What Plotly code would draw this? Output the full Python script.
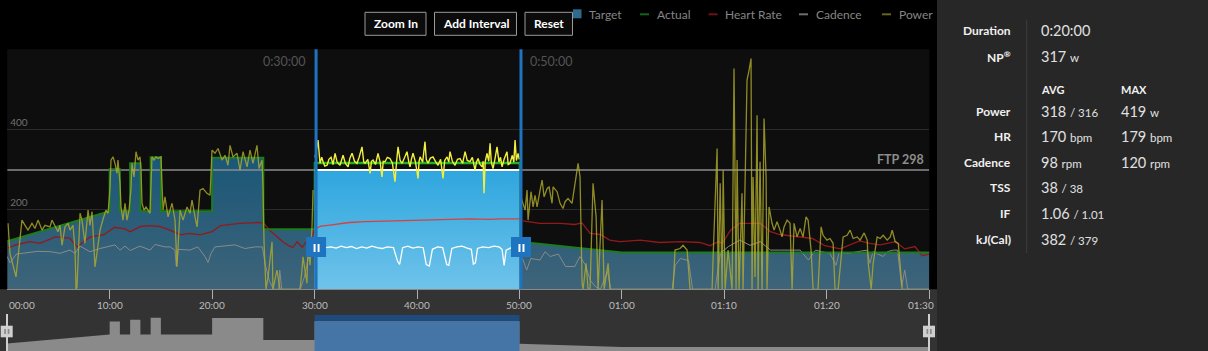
import plotly.graph_objects as go
import numpy as np

# ---------------- data ----------------
sel_start, sel_end = 30, 50          # selected interval (minutes)
ftp = 298

# target / actual step profile (minutes, watts)
target_t = [0, 10, 10, 11, 11, 12, 12, 13, 13, 14, 14, 15, 15, 20, 20, 25, 25, 30, 30, 50, 50, 60, 90]
target_w = [120, 195, 300, 300, 195, 195, 315, 315, 195, 195, 330, 330, 195, 195, 329, 329, 150, 150, 298, 298, 119, 92, 92]
actual_w = [120, 195, 300, 300, 195, 195, 315, 315, 195, 195, 330, 330, 195, 195, 329, 329, 150, 150, 316, 316, 119, 92, 92]

hr_t = [0, 1.0, 2.2, 3.2, 4.7, 6.1, 6.8, 8.1, 9.4, 10.5, 11.5, 12.0, 13.0, 13.9, 14.9, 15.9, 16.9, 17.8, 18.8, 20.0,
        20.8, 22.7, 24.7, 25.1, 25.6, 26.3, 26.9, 27.6, 27.9, 28.3, 28.8, 29.3, 29.75, 29.95,
        30.2, 30.6, 31.3, 32.3, 33.4, 34.9, 36.4, 38.3, 40.2, 41.2, 43.2, 45.2, 47.1, 48.1, 50.0,
        50.3, 51.2, 52.0, 54.0, 55.4, 56.1, 56.9, 57.9, 58.8, 59.8, 61.8, 63.7, 65.7, 67.6, 68.6, 69.4, 69.8,
        70.6, 71.5, 73.5, 74.5, 75.4, 77.4, 78.6, 79.8, 81.3, 83.2, 84.2, 85.2, 86.7, 87.6, 88.6, 89.3, 90]
hr_bpm = [103, 112, 119, 115, 131, 128, 106, 131, 136, 155, 151, 144, 157, 159, 157, 148, 136, 140, 136, 144,
          159, 165, 167, 163, 148, 131, 119, 107, 105, 119, 105, 123, 131, 148,
          153, 158, 160, 164, 167, 169, 170, 171, 172, 172, 173, 176, 175, 176, 176,
          171, 167, 165, 165, 162, 166, 140, 137, 123, 119, 123, 117, 119, 117, 109, 119, 115,
          148, 165, 165, 144, 137, 131, 127, 109, 101, 121, 115, 111, 119, 101, 107, 84, 88]

cad_t = [0, 0.27, 0.9, 1.5, 2.2, 3.0, 4.2, 5.15, 6.13, 6.62, 7.1, 8.08, 9.06, 10.03, 10.52, 11.0, 11.5, 12.0, 12.96, 13.94,
         14.43, 15.4, 15.9, 16.38, 16.5, 16.7, 17.84, 18.6, 19.3, 19.6, 19.9, 20.28, 21.26, 22.24, 23.2, 24.2, 24.9, 25.2,
         25.6, 26.0, 26.5, 26.6, 26.8, 28.6, 29.0, 29.4, 29.9,
         30.2, 31.1, 31.6, 32.1, 32.6, 33.1, 33.6, 34.1, 34.6, 35.1, 35.6, 36.1, 36.6, 37.1, 37.7, 38.1, 38.3, 38.6, 39.1,
         39.6, 40.1, 40.6, 40.9, 41.2, 41.5, 42.0, 42.5, 42.9, 43.1, 43.4, 43.9, 44.4, 44.9, 45.3, 45.5, 45.7, 45.9, 46.4,
         47.0, 47.5, 48.0, 48.3, 48.5, 48.7, 49.2, 49.8,
         50.3, 50.7, 51.1, 52.0, 52.5, 53.0, 53.8, 54.5, 55.4, 55.9, 56.4, 56.9, 57.4, 57.9, 58.6, 58.9, 64.9, 65.2, 65.7,
         66.5, 66.9, 69.1, 69.6, 70.4, 71.5, 72.5, 73.5, 74.5, 75.4, 77.4, 78.2, 78.9, 79.5, 80.3, 80.9, 81.2, 82.1, 83.2,
         83.9, 84.2, 84.5, 85.5, 85.9, 86.5, 86.9, 87.3, 87.6, 87.9, 90]
cad_rpm = [82, 66, 88, 90, 92, 95, 94, 90, 98, 90, 108, 94, 102, 108, 111, 98, 108, 97, 108, 98,
           112, 106, 106, 98, 58, 100, 98, 106, 82, 67, 90, 106, 108, 111, 102, 106, 106, 60,
           20, 0, 0, 48, 0, 0, 30, 80, 90,
           104, 104, 106, 103, 108, 104, 107, 102, 106, 103, 108, 104, 102, 106, 104, 70, 62, 104, 108,
           103, 106, 104, 62, 58, 100, 106, 104, 62, 60, 102, 106, 108, 103, 100, 63, 66, 102, 106,
           104, 108, 106, 100, 60, 98, 104, 106,
           77, 48, 77, 73, 94, 82, 88, 57, 57, 82, 62, 23, 7, 0, 45, 0, 0, 60, 77,
           72, 0, 0, 90, 107, 123, 110, 119, 98, 98, 98, 73, 98, 94, 90, 60, 92, 90, 94,
           98, 65, 94, 82, 94, 98, 98, 7, 48, 0, 0]

pow_t = [0.08, 0.27, 0.86, 1.25, 1.44, 1.74, 2.03, 2.42, 2.71, 3.01, 3.40, 3.69, 4.18, 4.37, 4.67, 4.96, 5.15, 5.35, 5.64, 5.93,
         6.13, 6.42, 6.62, 6.72, 6.81, 7.01, 7.11, 7.30, 7.59, 7.89, 8.08, 8.28, 8.57, 8.76, 9.06, 9.35, 9.64, 9.84,
         10.03, 10.13, 10.33, 10.52, 10.72, 10.81, 11.01, 11.11, 11.30, 11.50, 11.69, 11.89, 12.08, 12.18, 12.38, 12.57, 12.77, 12.96, 13.06, 13.16,
         13.35, 13.55, 13.74, 13.94, 14.13, 14.33, 14.52, 14.72, 15.01, 15.21, 15.40, 15.70, 16.09, 16.38, 16.57, 16.87, 17.16, 17.55, 17.84, 18.04,
         18.33, 18.53, 18.82, 19.11, 19.50, 19.80, 19.99, 20.28, 20.58, 20.97, 21.26, 21.55, 21.75, 22.04, 22.43, 22.72, 23.02, 23.41, 23.70, 23.99,
         24.38, 24.58, 24.87, 24.97, 25.07, 25.26, 25.46, 25.65, 25.85, 25.94, 26.33, 26.63, 28.58, 28.77, 28.87, 29.26, 29.36, 29.56, 29.75, 29.85,
         30.05, 30.34, 30.53, 30.7, 30.83, 31.0, 31.22, 31.4, 31.61, 31.8, 32.0, 32.2, 32.48, 32.6, 32.78, 33.0, 33.27, 33.45, 33.66, 33.9,
         34.14, 34.35, 34.63, 34.8, 34.93, 35.2, 35.42, 35.55, 35.71, 35.95, 36.19, 36.4, 36.58, 36.7, 36.88, 37.1, 37.36, 37.6, 37.85, 38.0,
         38.15, 38.35, 38.54, 38.8, 39.02, 39.2, 39.32, 39.45, 39.61, 39.85, 40.10, 40.2, 40.30, 40.55, 40.78, 40.9, 41.07, 41.3, 41.56, 41.8,
         42.05, 42.3, 42.54, 42.7, 42.93, 43.1, 43.22, 43.45, 43.71, 43.95, 44.20, 44.45, 44.69, 44.9, 45.17, 45.4, 45.66, 45.8, 45.96, 46.15,
         46.35, 46.45, 46.54, 46.65, 46.83, 47.0, 47.13, 47.25, 47.42, 47.6, 47.81, 48.0, 48.15, 48.30, 48.5, 48.78, 48.9, 49.08, 49.3, 49.45,
         49.57, 49.7, 49.86, 49.97,
         50.15, 50.35, 50.55, 50.74, 50.84, 51.13, 51.33, 51.52, 51.72, 52.01, 52.21, 52.40, 52.70, 52.89, 53.18, 53.28, 53.67, 53.96, 54.25, 54.45,
         54.74, 55.13, 55.42, 55.72, 55.91, 56.11, 56.21, 56.50, 56.70, 56.89, 57.18, 57.48, 57.67, 58.06, 58.26, 58.65, 58.84, 64.99, 65.18, 65.67,
         65.96, 66.36, 66.65, 68.80, 68.90, 69.29, 69.39, 69.59, 69.78, 69.88, 70.07, 70.36, 70.75, 70.94, 71.14, 71.24, 71.43, 71.72, 71.82, 72.21,
         72.41, 72.60, 72.70, 72.80, 72.99, 73.19, 73.29, 73.48, 73.68, 73.87, 74.07, 74.16, 74.36, 74.65, 74.85, 75.14, 75.43, 75.63, 75.82, 76.12,
         76.41, 76.61, 76.80, 77.09, 77.39, 77.68, 77.97, 78.17, 78.46, 78.66, 79.14, 79.44, 79.63, 80.02, 80.31, 80.61, 80.80, 81.10, 81.59, 81.98,
         82.27, 82.57, 82.96, 83.25, 83.64, 83.94, 84.04, 84.33, 84.52, 84.91, 85.21, 85.50, 85.89, 86.19, 86.38, 86.67, 86.97, 87.16, 87.36, 90]
pow_w = [165, 90, 31, 131, 173, 160, 148, 165, 152, 173, 148, 160, 156, 173, 160, 144, 160, 110, 156, 165,
         148, 160, 98, 0, 5, 165, 190, 173, 115, 198, 160, 194, 56, 90, 148, 175, 198, 190,
         250, 323, 331, 315, 290, 323, 265, 206, 173, 215, 173, 198, 250, 315, 281, 344, 323, 331, 300, 215,
         198, 206, 198, 190, 331, 323, 331, 327, 331, 198, 231, 181, 215, 173, 56, 198, 173, 206, 190, 223,
         181, 156, 248, 252, 240, 235, 348, 340, 352, 323, 335, 310, 360, 331, 340, 298, 344, 306, 348, 315,
         360, 302, 323, 250, 115, 0, 31, 73, 119, 0, 48, 0, 0, 48, 81, 15, 115, 60, 156, 248,
         330, 373, 315, 330, 319, 308, 310, 325, 330, 312, 340, 318, 310, 322, 335, 315, 306, 328, 340, 320,
         315, 330, 356, 318, 315, 325, 290, 320, 323, 312, 340, 318, 281, 320, 319, 330, 327, 315, 269, 318,
         356, 322, 315, 330, 344, 318, 306, 325, 340, 318, 277, 320, 331, 318, 369, 325, 315, 328, 331, 320,
         310, 325, 277, 322, 331, 318, 344, 320, 310, 325, 327, 315, 344, 322, 319, 330, 298, 318, 327, 312,
         306, 320, 240, 318, 340, 320, 365, 318, 302, 325, 356, 318, 330, 306, 325, 344, 312, 315, 335, 318,
         373, 322, 340, 325,
         230, 215, 198, 248, 173, 244, 206, 235, 206, 248, 273, 231, 252, 256, 215, 256, 244, 215, 202, 219,
         227, 215, 265, 315, 281, 15, 0, 65, 0, 0, 265, 181, 0, 223, 0, 65, 0, 0, 98, 102,
         110, 98, 0, 0, 81, 352, 0, 265, 0, 298, 0, 98, 0, 552, 0, 323, 0, 240, 0, 523,
         548, 577, 0, 281, 31, 435, 0, 319, 0, 427, 281, 0, 206, 165, 148, 169, 148, 131, 156, 173,
         165, 0, 165, 131, 152, 131, 181, 173, 98, 0, 0, 156, 135, 123, 127, 115, 0, 0, 131, 135,
         148, 127, 131, 123, 141, 123, 65, 0, 65, 131, 127, 135, 123, 131, 148, 119, 115, 56, 0, 0]

x_tick_vals = [0, 10, 20, 30, 40, 50, 60, 70, 80, 90]
x_tick_text = ["00:00", "10:00", "20:00", "30:00", "40:00", "50:00", "01:00", "01:10", "01:20", "01:30"]
y_tick_vals = [200, 400]

legend_names = ["Target", "Actual", "Heart Rate", "Cadence", "Power"]
button_labels = ["Zoom In", "Add Interval", "Reset"]

duration = "0:20:00"
np_value = 317
stat_rows = ["Power", "HR", "Cadence", "TSS", "IF", "kJ(Cal)"]
stat_avg = ["318", "170", "98", "38", "1.06", "382"]
stat_avg_sub = ["/ 316", "bpm", "rpm", "/ 38", "/ 1.01", "/ 379"]
stat_max = ["419", "179", "120", "", "", ""]
stat_max_unit = ["w", "bpm", "rpm", "", "", ""]

# ---------------- helpers ----------------
W, H = 1208, 351
def px(x): return x / W
def py(y): return 1 - y / H

def outside(t, v):
    return list(t), [b if (a < sel_start or a > sel_end) else None for a, b in zip(t, v)]

def inside(t, v):
    pts = [(a, b) for a, b in zip(t, v) if sel_start <= a <= sel_end]
    return [p[0] for p in pts], [p[1] for p in pts]

def inside_steps(t, v):
    idx = [i for i, a in enumerate(t) if sel_start <= a <= sel_end][1:-1]
    return [t[i] for i in idx], [v[i] for i in idx]

C_TARGET_LEG = "#2d6a8e"
C_ACT, C_ACT_IN = "#1b7d1b", "#22b022"
C_HR, C_HR_IN = "#921a1a", "#d9403c"
C_CAD, C_CAD_IN = "#8a8a8a", "#ffffff"
C_POW, C_POW_IN = "rgba(178,172,44,0.8)", "#f3f03c"
C_SEL = "#1f74c0"

fig = go.Figure()

# navigator
fig.add_trace(go.Scatter(x=target_t, y=target_w, xaxis="x2", yaxis="y2", mode="lines",
                         line=dict(width=0), fill="tozeroy", fillcolor="#8a8a8a", hoverinfo="skip"))
# target area
fig.add_trace(go.Scatter(x=target_t, y=target_w, mode="lines", line=dict(width=0), fill="tozeroy",
                         fillgradient=dict(type="vertical", colorscale=[[0, "#3e6479"], [1, "#1a5778"]],
                                           start=0, stop=330), name="Target", hoverinfo="skip"))
# FTP line
fig.add_trace(go.Scatter(x=[0, 90], y=[ftp, ftp], mode="lines", line=dict(color="#8c8c8c", width=1.5), hoverinfo="skip"))

xo, yo = outside(cad_t, cad_rpm)
fig.add_trace(go.Scatter(x=xo, y=yo, mode="lines", line=dict(color=C_CAD, width=1), name="Cadence"))
xo, yo = outside(hr_t, hr_bpm)
fig.add_trace(go.Scatter(x=xo, y=yo, mode="lines", line=dict(color=C_HR, width=1.3), name="Heart Rate"))
fig.add_trace(go.Scatter(x=target_t, y=actual_w, mode="lines", line=dict(color=C_ACT, width=2), name="Actual"))
xo, yo = outside(pow_t, pow_w)
fig.add_trace(go.Scatter(x=xo, y=yo, mode="lines", line=dict(color=C_POW, width=1.3), name="Power"))

# selected interval
xs, ys = inside_steps(target_t, target_w)
fig.add_trace(go.Scatter(x=xs, y=ys, mode="lines", line=dict(color="#ffffff", width=2), fill="tozeroy",
                         fillgradient=dict(type="vertical", colorscale=[[0, "#6fc3ea"], [1, "#2ea6de"]],
                                           start=0, stop=ftp), hoverinfo="skip"))
xs, ys = inside_steps(target_t, actual_w)
fig.add_trace(go.Scatter(x=xs, y=ys, mode="lines", line=dict(color=C_ACT_IN, width=2.5)))
xs, ys = inside(hr_t, hr_bpm)
fig.add_trace(go.Scatter(x=xs, y=ys, mode="lines", line=dict(color=C_HR_IN, width=1.3)))
xs, ys = inside(cad_t, cad_rpm)
fig.add_trace(go.Scatter(x=xs, y=ys, mode="lines", line=dict(color=C_CAD_IN, width=1.3)))
xs, ys = inside(pow_t, pow_w)
fig.add_trace(go.Scatter(x=xs, y=ys, mode="lines", line=dict(color=C_POW_IN, width=1.4)))

shapes, annotations = [], []

def rect(x0, y0, x1, y1, fill, layer="above", line=None):
    shapes.append(dict(type="rect", xref="paper", yref="paper", x0=px(x0), x1=px(x1), y0=py(y1), y1=py(y0),
                       fillcolor=fill, layer=layer, line=line or dict(width=0)))

def seg(x0, x1, y, color, width=2):
    shapes.append(dict(type="line", xref="paper", yref="paper", x0=px(x0), x1=px(x1), y0=py(y), y1=py(y),
                       line=dict(color=color, width=width)))

def text(x, y, s, size, color, xanchor="left", yanchor="middle", **kw):
    d = dict(x=px(x), y=py(y), xref="paper", yref="paper", text=s, showarrow=False, xanchor=xanchor,
             yanchor=yanchor, font=dict(size=size, color=color))
    d.update(kw)
    annotations.append(d)

# backgrounds
rect(7.2, 49.3, 929.3, 289.3, "#0e0e0e", layer="below")
rect(0, 289.3, 937, 351, "#333333", layer="below")
rect(937, 0, 1208, 351, "#272727", layer="below")

# buttons
for lab, (bx0, bx1) in zip(button_labels, [(365, 426), (434.5, 516.5), (525, 572.5)]):
    rect(bx0, 12.3, bx1, 35.3, "#0b0b0b", line=dict(color="#9a9a9a", width=1))
    text((bx0 + bx1) / 2, 24, f"<b>{lab}</b>", 12, "#ffffff", xanchor="center")

# legend
rect(573, 9.3, 581.5, 18.3, C_TARGET_LEG)
leg_cols = [None, "#13651a", "#6e1313", "#6e6e6e", "#66641f"]
leg_dash = [None, 640, 708.6, 799, 882]
leg_txt = [587, 655, 723, 814, 896.5]
for i, name in enumerate(legend_names):
    if leg_dash[i] is not None:
        seg(leg_dash[i], leg_dash[i] + 9, 14.3, leg_cols[i], 2)
    text(leg_txt[i], 14.3, name, 12, "#858585")

# selection lines and handles
for a in (sel_start, sel_end):
    shapes.append(dict(type="rect", xref="x", yref="y domain", xsizemode="pixel", xanchor=a, x0=0, x1=3,
                       y0=0, y1=1, fillcolor=C_SEL, line=dict(width=0)))
    shapes.append(dict(type="rect", xref="x", yref="paper", xsizemode="pixel", xanchor=a, x0=-8.5, x1=11.5,
                       y0=py(257), y1=py(237), fillcolor=C_SEL, line=dict(width=0)))
    for b0 in (-1, 3):
        shapes.append(dict(type="rect", xref="x", yref="paper", xsizemode="pixel", xanchor=a, x0=b0, x1=b0 + 2,
                           y0=py(252), y1=py(244), fillcolor="#ffffff", line=dict(width=0)))

annotations.append(dict(x=sel_start, xref="x", y=py(61), yref="paper", yanchor="middle", text=f"0:{sel_start}:00",
                        showarrow=False, xanchor="right", xshift=-7, font=dict(size=12.5, color="#545454")))
annotations.append(dict(x=sel_end, xref="x", y=py(61), yref="paper", yanchor="middle", text=f"0:{sel_end}:00",
                        showarrow=False, xanchor="left", xshift=9, font=dict(size=12.5, color="#545454")))
annotations.append(dict(x=1, xref="x domain", y=ftp, yref="y", text=f"<b>FTP {ftp}</b>", showarrow=False,
                        xanchor="right", yanchor="bottom", xshift=-3, yshift=1, font=dict(size=12.5, color="#8c8c8c")))

# x tick labels
for i, (v, s) in enumerate(zip(x_tick_vals, x_tick_text)):
    xa, xsh = "center", 0
    if i == 0:
        xa, xsh = "left", 0
    elif i == len(x_tick_vals) - 1:
        xa, xsh = "right", 7
    annotations.append(dict(x=v, xref="x", y=py(304.6), yref="paper", yanchor="middle", text=s, showarrow=False,
                            xanchor=xa, xshift=xsh, font=dict(size=10, color="#bdbdbd")))

# navigator selection + handles
shapes.append(dict(type="rect", xref="x2", yref="paper", x0=sel_start, x1=sel_end, y0=0, y1=py(320.7),
                   fillcolor="#4575a6", line=dict(width=0)))
shapes.append(dict(type="rect", xref="x2", yref="paper", x0=sel_start, x1=sel_end, y0=py(320.7), y1=py(315),
                   fillcolor="#1e4b7b", line=dict(width=0)))
for lx, bx in ((6, 0.7), (928, 923)):
    rect(lx, 314, lx + 2, 351, "#cfcfcf")
    rect(bx, 325.7, bx + 12, 337.3, "#cfcfcf")
    rect(bx + 3.5, 329, bx + 5.2, 334, "#8a8a8a")
    rect(bx + 7, 329, bx + 8.7, 334, "#8a8a8a")

# right stats panel
shapes.append(dict(type="line", xref="paper", yref="paper", x0=px(1026.7), x1=px(1026.7), y0=py(20), y1=py(253),
                   line=dict(color="#3e3e3e", width=1)))
LX, VX, MX = 1013, 1039, 1119
text(LX, 31, "<b>Duration</b>", 12, "#f0f0f0", xanchor="right")
text(VX, 31, duration, 14.5, "#e0e0e0")
text(LX, 56.7, "<b>NP<sup>®</sup></b>", 12, "#f0f0f0", xanchor="right")
text(VX, 56.7, f"{np_value} <span style='font-size:11.5px'>w</span>", 14.5, "#e0e0e0")
text(VX, 89, "<b>AVG</b>", 11, "#f0f0f0")
text(MX, 89, "<b>MAX</b>", 11, "#f0f0f0")
for i, lab in enumerate(stat_rows):
    y = 111 + i * 25.65
    text(LX, y, f"<b>{lab}</b>", 12, "#f0f0f0", xanchor="right")
    text(VX, y, f"{stat_avg[i]} <span style='font-size:11.5px'>{stat_avg_sub[i]}</span>", 14.5, "#e0e0e0")
    if stat_max[i]:
        text(MX, y, f"{stat_max[i]} <span style='font-size:11.5px'>{stat_max_unit[i]}</span>", 14.5, "#e0e0e0")

fig.update_layout(
    width=W, height=H, margin=dict(l=0, r=0, t=0, b=0),
    paper_bgcolor="#000000", plot_bgcolor="rgba(0,0,0,0)",
    showlegend=False, hovermode=False,
    font=dict(family="Lato, sans-serif"),
    xaxis=dict(domain=[px(7.2), px(929.3)], range=[0, 90], tickvals=x_tick_vals, showticklabels=False,
               ticks="outside", ticklen=9, tickcolor="#b0b0b0", tickwidth=1, showline=True, linecolor="#8a8a8a",
               linewidth=1, showgrid=False, zeroline=False, anchor="y", fixedrange=True),
    yaxis=dict(domain=[py(289.3), py(49.3)], range=[0, 600], tickvals=y_tick_vals,
               ticktext=[str(v) for v in y_tick_vals], ticklabelposition="inside top",
               tickfont=dict(size=10, color="#707070"), showgrid=True, gridcolor="#2b2b2b", gridwidth=1,
               zeroline=False, showline=False, ticks="", anchor="x", fixedrange=True),
    xaxis2=dict(domain=[px(7.2), px(929.3)], range=[0, 90], visible=False, anchor="y2", fixedrange=True),
    yaxis2=dict(domain=[0, py(312)], range=[60, 377], visible=False, anchor="x2", fixedrange=True),
    shapes=shapes, annotations=annotations,
)

fig.write_html("out.html", config={"displayModeBar": False})
